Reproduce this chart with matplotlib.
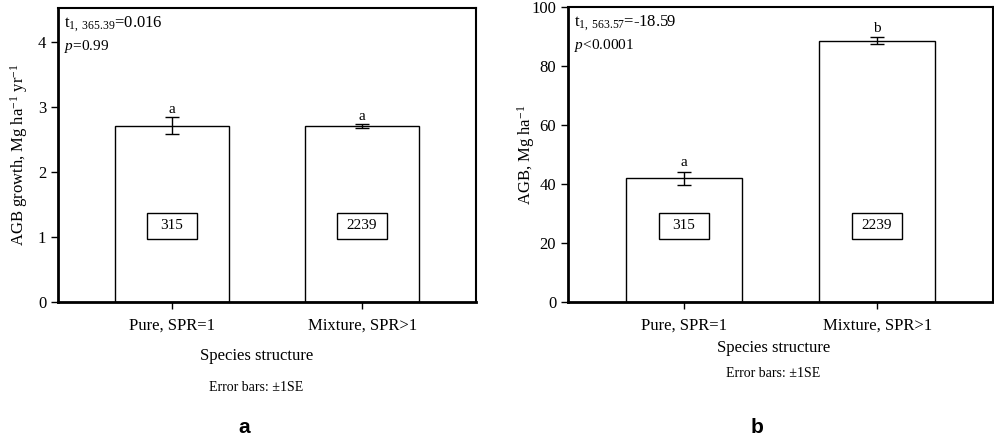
import matplotlib
matplotlib.use("Agg")
import matplotlib.pyplot as plt
from matplotlib.patches import Rectangle
import numpy as np

plt.rcParams['font.family'] = ['Liberation Serif', 'DejaVu Serif']
plt.rcParams['mathtext.fontset'] = 'custom'
plt.rcParams['mathtext.rm'] = 'Liberation Serif'
plt.rcParams['mathtext.it'] = 'Liberation Serif:italic'

categories = ["Pure, SPR=1", "Mixture, SPR>1"]
counts = ["315", "2239"]

growth_mean = [2.71, 2.70]
growth_se = [0.135, 0.03]
growth_letters = ["a", "a"]

agb_mean = [42.0, 88.5]
agb_se = [2.2, 1.2]
agb_letters = ["a", "b"]


def draw_panel(ax, means, ses, letters, ymax, yticks, ylabel, stat1, stat2, box_y, box_h, letter_gap):
    x = np.arange(len(categories))
    ax.bar(x, means, width=0.6, color="white", edgecolor="black", linewidth=1.0, zorder=2)
    ax.errorbar(x, means, yerr=ses, fmt="none", ecolor="black", elinewidth=1.0,
                capsize=5, capthick=1.0, zorder=3)
    for xi, m, s, lt in zip(x, means, ses, letters):
        ax.text(xi, m + s + letter_gap, lt, ha="center", va="bottom", fontsize=11)
    for xi, c in zip(x, counts):
        ax.add_patch(Rectangle((xi - 0.13, box_y - box_h / 2), 0.26, box_h,
                               facecolor="white", edgecolor="black", linewidth=1.0, zorder=4))
        ax.text(xi, box_y, c, ha="center", va="center", fontsize=11, zorder=5)
    ax.set_xlim(-0.6, 1.6)
    ax.set_ylim(0, ymax)
    ax.set_yticks(yticks)
    ax.set_xticks(x)
    ax.set_xticklabels(categories, fontsize=12)
    ax.tick_params(axis="both", labelsize=12, direction="out", length=5, width=1.0)
    ax.tick_params(axis="x", pad=6)
    for side in ["left", "bottom"]:
        ax.spines[side].set_linewidth(2.0)
    for side in ["top", "right"]:
        ax.spines[side].set_linewidth(1.5)
    ax.set_ylabel(ylabel, fontsize=12)
    ax.text(0.015, 0.945, stat1, transform=ax.transAxes, fontsize=12, va="center")
    ax.text(0.015, 0.87, stat2, transform=ax.transAxes, fontsize=11, va="center")


fig = plt.figure(figsize=(9.94, 4.36), dpi=100)
ax1 = fig.add_axes([0.0584, 0.307, 0.4206, 0.675])
ax2 = fig.add_axes([0.5714, 0.307, 0.4276, 0.677])

draw_panel(ax1, growth_mean, growth_se, growth_letters, 4.52, [0, 1, 2, 3, 4],
           r"AGB growth, Mg ha$^{\mathrm{-1}}$ yr$^{\mathrm{-1}}$",
           r"t$_{\mathrm{1,\ 365.39}}$=0.016", r"$p$=0.99", 1.17, 0.385, 0.02)
draw_panel(ax2, agb_mean, agb_se, agb_letters, 100, [0, 20, 40, 60, 80, 100],
           r"AGB, Mg ha$^{\mathrm{-1}}$",
           r"t$_{\mathrm{1,\ 563.57}}$=-18.59", r"$p$<0.0001", 25.8, 8.5, 0.8)

ax1.yaxis.set_label_coords(-0.066, 0.5)
ax2.yaxis.set_label_coords(-0.072, 0.5)

fig.text(0.258, 0.183, "Species structure", ha="center", va="center", fontsize=12)
fig.text(0.258, 0.112, "Error bars: \u00b11SE", ha="center", va="center", fontsize=10)
fig.text(0.778, 0.202, "Species structure", ha="center", va="center", fontsize=12)
fig.text(0.778, 0.144, "Error bars: \u00b11SE", ha="center", va="center", fontsize=10)

fig.text(0.246, 0.02, "a", ha="center", va="center", fontsize=15, fontweight="bold",
         family="Liberation Sans")
fig.text(0.762, 0.02, "b", ha="center", va="center", fontsize=15, fontweight="bold",
         family="Liberation Sans")

fig.savefig("out.png", dpi=100)
